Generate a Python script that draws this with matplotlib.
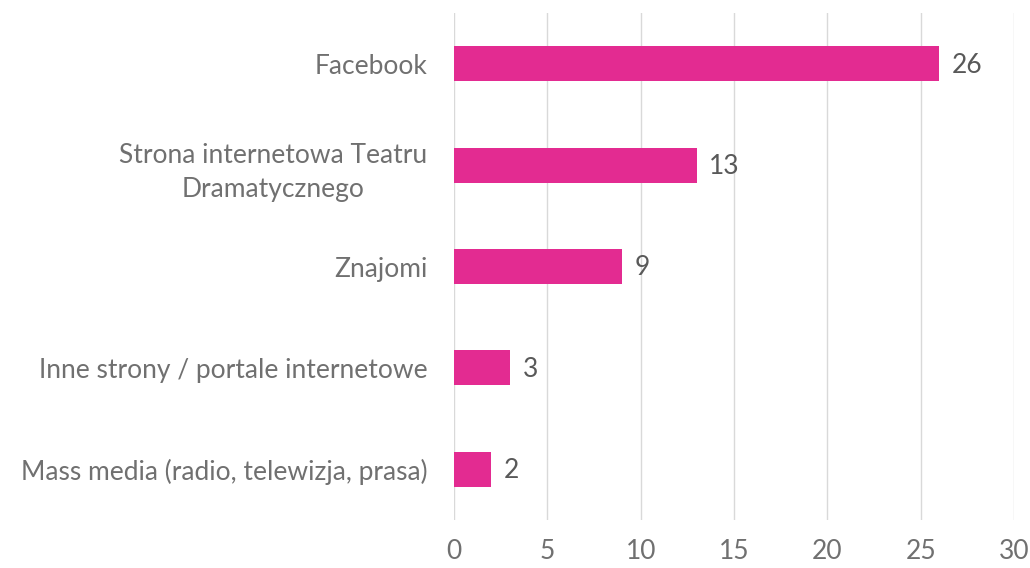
import matplotlib.pyplot as plt

categories = ["Facebook",
              "Strona internetowa Teatru\nDramatycznego",
              "Znajomi",
              "Inne strony / portale internetowe",
              "Mass media (radio, telewizja, prasa)"]
values = [26, 13, 9, 3, 2]
xticks = [0, 5, 10, 15, 20, 25, 30]

bar_color = "#E32B91"
text_color = "#707070"

plt.rcParams["font.family"] = ["Lato", "DejaVu Sans"]

fig = plt.figure(figsize=(10.30, 5.68), dpi=100)
ax = fig.add_axes([454 / 1030, 1 - 520 / 568, 560 / 1030, 507 / 568])

pos = list(range(len(categories)))
ax.barh(pos, values, height=0.345, color=bar_color, zorder=2)
ax.set_ylim(len(categories) - 0.5, -0.5)
ax.set_xlim(0, 30)

for p, v in zip(pos, values):
    ax.annotate(str(v), (v, p), xytext=(9, -1), textcoords="offset points",
                va="center", ha="left", fontsize=19, color="#595959")

ax.set_yticks(pos)
ax.set_yticklabels(categories, linespacing=1.45)
for lbl in ax.get_yticklabels():
    lbl.set_multialignment("center")
ax.set_xticks(xticks)
ax.tick_params(axis="both", length=0, labelsize=19, labelcolor=text_color)
ax.tick_params(axis="y", pad=19)
ax.tick_params(axis="x", pad=14)

ax.grid(axis="x", color="#d9d9d9", linewidth=1, zorder=0)
for s in ax.spines.values():
    s.set_visible(False)

plt.savefig("out.png", dpi=100)
